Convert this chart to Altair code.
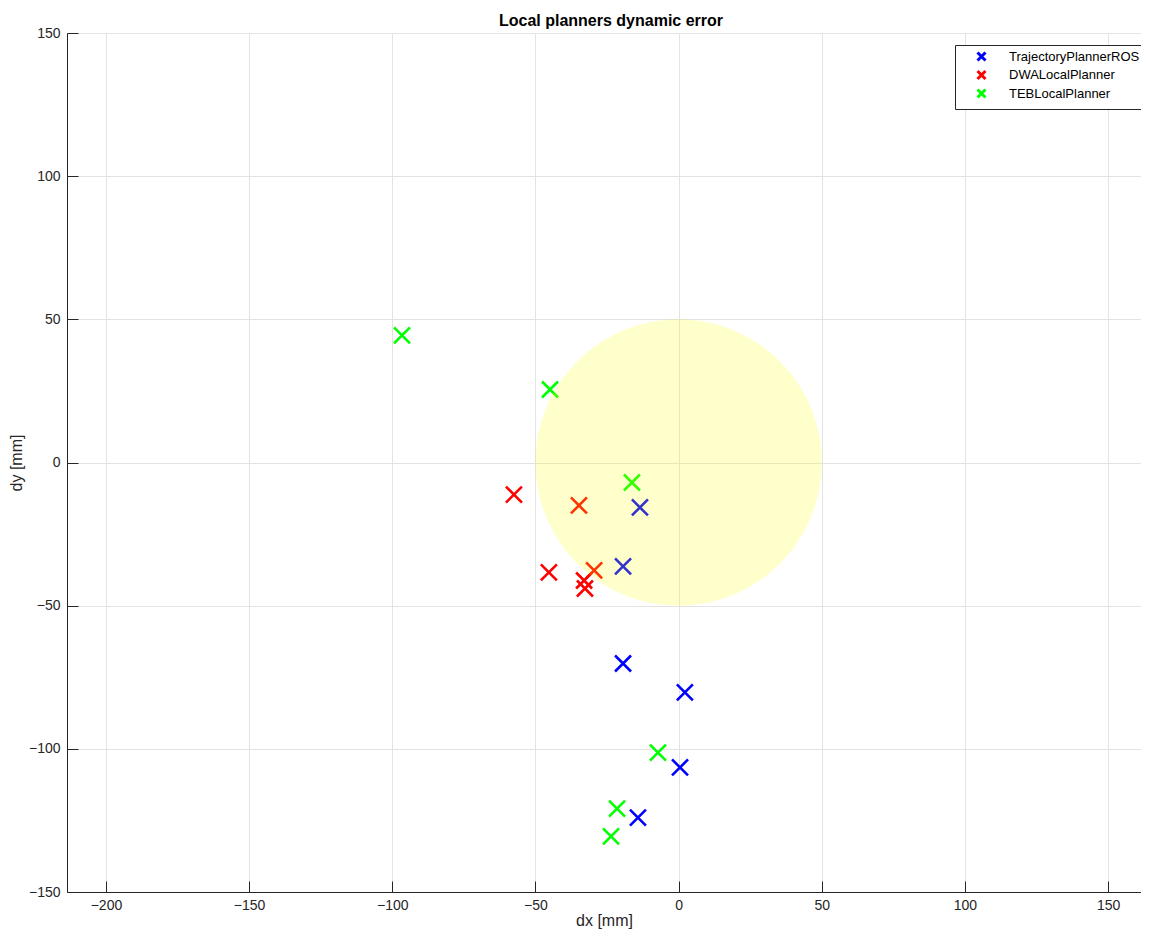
import numpy as np
import pandas as pd
import altair as alt

# ---- data ----
traj_dx = [-13.5, -19.4, -19.4, 2.2, 0.5, -14.2]
traj_dy = [-15.7, -36.3, -70.2, -80.3, -106.5, -124.0]

dwa_dx = [-57.5, -34.8, -45.3, -29.5, -33.0, -32.7]
dwa_dy = [-11.2, -15.0, -38.4, -37.7, -41.2, -44.0]

teb_dx = [-96.6, -44.9, -16.3, -7.2, -21.5, -23.6]
teb_dy = [44.4, 25.5, -7.0, -101.3, -120.9, -130.6]

planners = ["TrajectoryPlannerROS", "DWALocalPlanner", "TEBLocalPlanner"]
planner_colors = ["#0000ff", "#ff0000", "#00ff00"]

circle_center = [0.0, 0.0]
circle_radius = 50.0

x_ticks = [-200, -150, -100, -50, 0, 50, 100, 150]
y_ticks = [-150, -100, -50, 0, 50, 100, 150]
x_domain = [-213.6, 161.5]
y_domain = [-150, 150]

# ---- tables ----
rows = []
for name, xs, ys in [(planners[0], traj_dx, traj_dy),
                     (planners[1], dwa_dx, dwa_dy),
                     (planners[2], teb_dx, teb_dy)]:
    for a, b in zip(xs, ys):
        rows.append({"dx": a, "dy": b, "planner": name})
pts = pd.DataFrame(rows)

t = np.linspace(-circle_radius, circle_radius, 401)
half = np.sqrt(np.clip(circle_radius**2 - t**2, 0, None))
circ = pd.DataFrame({"cx": circle_center[0] + t,
                     "cy_top": circle_center[1] + half,
                     "cy_bot": circle_center[1] - half})

W, H = 1074, 859
FONT = "Liberation Sans"
AX = "#262626"
GRID = "#e3e3e3"
XSHAPE = "M-1,-1L1,1M1,-1L-1,1"

xscale = alt.Scale(domain=x_domain, nice=False, zero=False)
yscale = alt.Scale(domain=y_domain, nice=False, zero=False)

points = alt.Chart(pts).mark_point(
    shape=XSHAPE, filled=False, strokeWidth=2.6, size=256, opacity=1
).encode(
    x=alt.X("dx:Q", scale=xscale,
            axis=alt.Axis(values=x_ticks, title="dx [mm]", grid=True, gridColor=GRID,
                          ticks=False, domainColor=AX, labelColor=AX, labelFontSize=14,
                          labelFont=FONT, labelPadding=6, titleFont=FONT, titleFontSize=16,
                          titleFontWeight="normal", titleColor=AX, titlePadding=0,
                          labelFlush=False)),
    y=alt.Y("dy:Q", scale=yscale,
            axis=alt.Axis(values=y_ticks, title="dy [mm]", grid=True, gridColor=GRID,
                          ticks=False, domainColor=AX, labelColor=AX, labelFontSize=14,
                          labelFont=FONT, labelPadding=7, titleFont=FONT, titleFontSize=16,
                          titleFontWeight="normal", titleColor=AX, titlePadding=4,
                          labelFlush=False)),
    color=alt.Color("planner:N",
                    scale=alt.Scale(domain=planners, range=planner_colors),
                    legend=alt.Legend(title=None, orient="none", legendX=888, legendY=12,
                                      symbolType=XSHAPE, symbolSize=64, symbolStrokeWidth=3,
                                      symbolFillColor="transparent",
                                      labelFont=FONT, labelFontSize=13, labelColor="#000000",
                                      padding=5, symbolOffset=15, labelOffset=21,
                                      rowPadding=-2.5, strokeColor="#262626",
                                      fillColor="#ffffff", labelLimit=300)),
)

circle = alt.Chart(circ).mark_area(color="#ffff00", opacity=0.2).encode(
    x=alt.X("cx:Q", scale=xscale,
            axis=alt.Axis(orient="top", offset=-H, values=x_ticks, labels=False,
                          domain=False, grid=False, ticks=True, tickSize=11,
                          tickColor=AX, title=None)),
    y=alt.Y("cy_top:Q", scale=yscale,
            axis=alt.Axis(orient="right", offset=-W, values=y_ticks, labels=False,
                          domain=False, grid=False, ticks=True, tickSize=11,
                          tickColor=AX, title=None)),
    y2="cy_bot:Q",
)

chart = alt.layer(points, circle).resolve_axis(x="independent", y="independent").properties(
    width=W, height=H,
    title=alt.TitleParams("Local planners dynamic error", font=FONT, fontSize=16,
                          fontWeight="bold", color="#000000", anchor="middle",
                          baseline="alphabetic", offset=-16, dx=7),
    autosize=alt.AutoSizeParams(type="none"),
    padding={"left": 59, "top": 25, "right": 0, "bottom": 38},
).configure_view(stroke=None).configure(background="#ffffff")

chart.save("out.html", embed_options={"renderer": "svg", "actions": False})
